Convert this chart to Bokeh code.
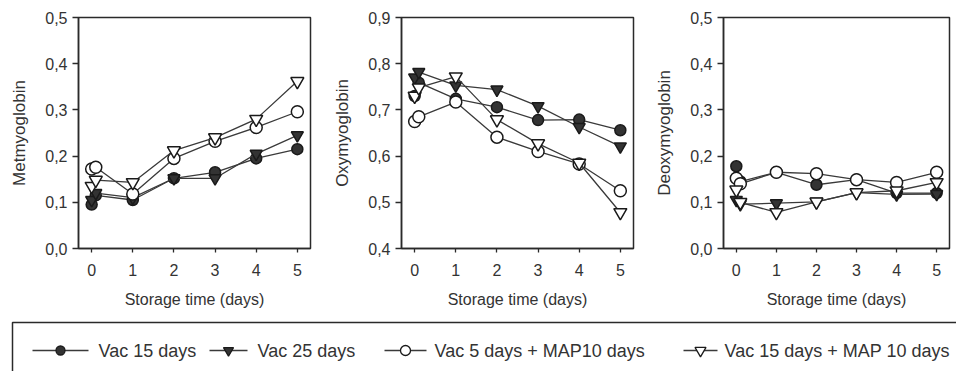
from bokeh.plotting import figure
from bokeh.layouts import column, row
from bokeh.models import FixedTicker, CustomJSTickFormatter, Range1d
from bokeh.embed import file_html
from bokeh.resources import INLINE

# ---- data ----
days = [0, 0.1, 1, 2, 3, 4, 5]
x_ticks = [0, 1, 2, 3, 4, 5]
series_names = ["Vac 15 days", "Vac 25 days", "Vac 5 days + MAP10 days", "Vac 15 days + MAP 10 days"]

met_vac15 = [0.095, 0.115, 0.105, 0.152, 0.165, 0.195, 0.215]
met_vac25 = [0.105, 0.120, 0.110, 0.152, 0.152, 0.205, 0.245]
met_vac5map = [0.172, 0.176, 0.118, 0.195, 0.232, 0.262, 0.296]
met_vac15map = [0.135, 0.148, 0.143, 0.212, 0.240, 0.280, 0.362]

oxy_vac15 = [0.730, 0.759, 0.724, 0.706, 0.678, 0.679, 0.656]
oxy_vac25 = [0.770, 0.782, 0.753, 0.744, 0.708, 0.663, 0.621]
oxy_vac5map = [0.675, 0.685, 0.717, 0.641, 0.610, 0.583, 0.525]
oxy_vac15map = [0.730, 0.748, 0.772, 0.679, 0.627, 0.585, 0.478]

deo_vac15 = [0.178, 0.145, 0.165, 0.138, 0.149, 0.120, 0.120]
deo_vac25 = [0.105, 0.096, 0.098, 0.101, 0.121, 0.117, 0.118]
deo_vac5map = [0.152, 0.140, 0.165, 0.162, 0.149, 0.143, 0.165]
deo_vac15map = [0.127, 0.100, 0.078, 0.101, 0.121, 0.125, 0.143]

met_ticks = [0.0, 0.1, 0.2, 0.3, 0.4, 0.5]
oxy_ticks = [0.4, 0.5, 0.6, 0.7, 0.8, 0.9]
deo_ticks = [0.0, 0.1, 0.2, 0.3, 0.4, 0.5]

FONT = "Liberation Sans"
INK = "#2a2a2a"
LINE = "#3a3a3a"
styles = [
    dict(marker="circle", fill_color="#333333", size=11),
    dict(marker="inverted_triangle", fill_color="#333333", size=12),
    dict(marker="circle", fill_color="white", size=12),
    dict(marker="inverted_triangle", fill_color="white", size=13),
]

fmt = CustomJSTickFormatter(code="return tick.toFixed(1).replace('.', ',');")


def panel(ylabel, yticks, data, frame_w, left, right):
    p = figure(frame_width=frame_w, frame_height=231, output_backend="svg", toolbar_location=None,
               x_range=Range1d(-0.32, 5.32), y_range=Range1d(yticks[0], yticks[-1]),
               min_border_left=left, min_border_right=right, min_border_top=17,
               min_border_bottom=66)
    p.xgrid.visible = False
    p.ygrid.visible = False
    p.outline_line_color = INK
    p.outline_line_width = 1.5
    p.xaxis.ticker = FixedTicker(ticks=x_ticks)
    p.yaxis.ticker = FixedTicker(ticks=yticks)
    p.yaxis.formatter = fmt
    for ax in (p.xaxis, p.yaxis):
        ax.axis_line_color = INK
        ax.axis_line_width = 1.5
        ax.major_tick_line_color = INK
        ax.major_tick_line_width = 1.3
        ax.minor_tick_line_color = None
        ax.major_label_text_font = FONT
        ax.major_label_text_font_size = "16px"
        ax.major_label_text_color = "#333333"
        ax.axis_label_text_font = FONT
        ax.axis_label_text_font_style = "normal"
        ax.axis_label_text_color = "#333333"
    p.xaxis.major_tick_out = 4
    p.xaxis.major_tick_in = 0
    p.yaxis.major_tick_out = 6
    p.yaxis.major_tick_in = 0
    p.xaxis.major_label_standoff = 11
    p.xaxis.axis_label = "Storage time (days)"
    p.xaxis.axis_label_text_font_size = "16px"
    p.xaxis.axis_label_standoff = 12
    p.yaxis.axis_label = ylabel
    p.yaxis.axis_label_text_font_size = "17px"
    p.yaxis.axis_label_standoff = 13
    p.yaxis.major_label_standoff = 5
    for vals, st in zip(data, styles):
        p.line(days, vals, line_color=LINE, line_width=1.3)
        p.scatter(days, vals, marker=st["marker"], size=st["size"], fill_color=st["fill_color"],
                  line_color="#1a1a1a", line_width=1.5)
    return p


p1 = panel("Metmyoglobin", met_ticks, [met_vac15, met_vac25, met_vac5map, met_vac15map], 232, 78, 20)
p2 = panel("Oxymyoglobin", oxy_ticks, [oxy_vac15, oxy_vac25, oxy_vac5map, oxy_vac15map], 232, 69, 19)
p3 = panel("Deoxymyoglobin", deo_ticks, [deo_vac15, deo_vac25, deo_vac5map, deo_vac15map], 226, 69, 4)

# ---- legend strip ----
LW, LH = 956, 57
lg = figure(width=LW, height=LH, output_backend="svg", toolbar_location=None,
            x_range=Range1d(0, LW), y_range=Range1d(0, LH),
            min_border=0)
lg.axis.visible = False
lg.xgrid.visible = False
lg.ygrid.visible = False
lg.outline_line_color = None
lg.quad(left=[12], right=[1100], top=[49], bottom=[-30], fill_color=None,
        line_color=INK, line_width=1.5)
glyph_x = [32, 209, 384, 683]
glyph_w = [56, 38, 42, 34]
text_x = [98, 257, 434, 724]
ly = 21
for gx, gw, tx, name, st in zip(glyph_x, glyph_w, text_x, series_names, styles):
    lg.line([gx, gx + gw], [ly, ly], line_color=LINE, line_width=1.3)
    lg.scatter([gx + gw / 2], [ly], marker=st["marker"], size=st["size"] - 2,
               fill_color=st["fill_color"], line_color="#1a1a1a", line_width=1.3)
    lg.text([tx], [ly], text=[name], text_font_size="18px", text_baseline="middle",
            text_color="#333333", text_font={"value": FONT})

layout = column(row(p1, p2, p3, spacing=0), lg, spacing=0)
open("out.html", "w").write(file_html(layout, INLINE))
